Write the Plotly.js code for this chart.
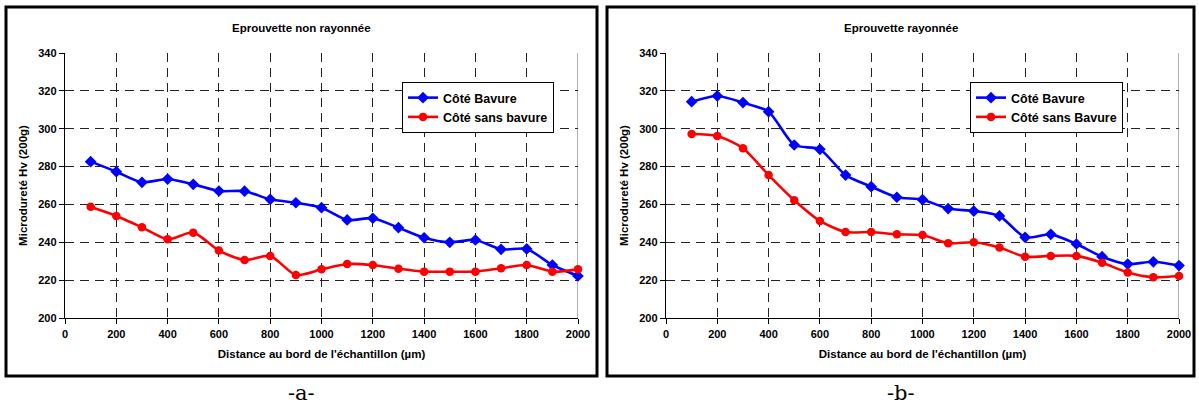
<!DOCTYPE html>
<html>
<head>
<meta charset="utf-8">
<script src="https://cdn.plot.ly/plotly-3.0.1.min.js"></script>
<style>html,body{margin:0;padding:0;background:#fff;}#chart{width:1199px;height:409px;}</style>
</head>
<body>
<div id="chart"></div>
<script>
// Distance au bord de l'échantillon (µm)
const distance = [100, 200, 300, 400, 500, 600, 700, 800, 900, 1000, 1100, 1200, 1300, 1400, 1500, 1600, 1700, 1800, 1900, 2000];

// -a- Eprouvette non rayonnée
const nonRayBavure = [282.6, 277.3, 271.7, 273.4, 270.6, 267.1, 267.0, 262.7, 260.9, 258.3, 251.8, 252.7, 247.7, 242.4, 240.0, 241.2, 236.3, 236.5, 228.0, 222.2];
const nonRaySansBavure = [258.8, 253.9, 247.9, 241.6, 245.1, 235.6, 230.6, 232.8, 222.7, 225.7, 228.5, 228.0, 226.0, 224.5, 224.5, 224.5, 226.3, 228.0, 224.5, 225.7];

// -b- Eprouvette rayonnée
const rayBavure = [314.3, 317.3, 313.8, 309.0, 291.4, 289.1, 275.5, 269.4, 263.8, 262.5, 257.8, 256.5, 253.9, 242.6, 244.2, 239.1, 232.4, 228.5, 229.7, 227.7];
const raySansBavure = [297.2, 296.2, 289.7, 275.5, 262.2, 251.3, 245.4, 245.4, 244.2, 243.8, 239.5, 240.0, 237.2, 232.4, 232.8, 232.8, 229.2, 224.0, 221.5, 222.2];

const titles = ["Eprouvette non rayonnée", "Eprouvette rayonnée"];
const legendNames = [["Côté Bavure", "Côté sans bavure"], ["Côté Bavure", "Côté sans Bavure"]];
const captions = ["-a-", "-b-"];
const xTitle = "Distance au bord de l'échantillon (µm)";
const yTitle = "Microdureté Hv (200g)";
const xTicks = [0, 200, 400, 600, 800, 1000, 1200, 1400, 1600, 1800, 2000];
const yTicks = [200, 220, 240, 260, 280, 300, 320, 340];

const FONT = "Liberation Sans, Arial, sans-serif";
const W = 1199, H = 409;

function mkTrace(y, name, color, symbol, size, xa, ya, leg) {
  return {
    x: distance, y: y, name: name, type: "scatter", mode: "lines+markers",
    line: {color: color, width: 2.6, shape: "spline", smoothing: 0.7},
    marker: {color: color, symbol: symbol, size: size},
    xaxis: xa, yaxis: ya, legend: leg, cliponaxis: false
  };
}

const data = [
  mkTrace(nonRayBavure, legendNames[0][0], "#0000FF", "diamond", 9, "x", "y", "legend"),
  mkTrace(nonRaySansBavure, legendNames[0][1], "#FF0000", "circle", 8.5, "x", "y", "legend"),
  mkTrace(rayBavure, legendNames[1][0], "#0000FF", "diamond", 9, "x2", "y2", "legend2"),
  mkTrace(raySansBavure, legendNames[1][1], "#FF0000", "circle", 8.5, "x2", "y2", "legend2")
];

function xAxis(domain, anchor) {
  return {
    domain: domain, anchor: anchor, range: [0, 2000], tickvals: xTicks,
    showgrid: true, gridcolor: "#222", gridwidth: 1, griddash: "9px,6px",
    showline: true, linecolor: "#000", linewidth: 1.3,
    ticks: "outside", ticklen: 5, tickcolor: "#000",
    tickfont: {family: FONT, size: 11, color: "#000", weight: "bold"},
    title: {text: xTitle, font: {family: FONT, size: 11.5, color: "#000", weight: "bold"}, standoff: 11},
    zeroline: false, automargin: false, fixedrange: true
  };
}
function yAxis(domain, anchor) {
  return {
    domain: domain, anchor: anchor, range: [200, 340], tickvals: yTicks,
    showgrid: true, gridcolor: "#222", gridwidth: 1, griddash: "9px,6px",
    showline: true, linecolor: "#000", linewidth: 1.3,
    ticks: "outside", ticklen: 5, tickcolor: "#000",
    tickfont: {family: FONT, size: 11, color: "#000", weight: "bold"},
    title: {text: yTitle, font: {family: FONT, size: 11.5, color: "#000", weight: "bold"}, standoff: 8},
    zeroline: false, automargin: false, fixedrange: true
  };
}

const yDom = [1 - 318 / H, 1 - 53 / H];
const legendStyle = {
  xanchor: "left", yanchor: "top",
  bgcolor: "#fff", bordercolor: "#000", borderwidth: 1,
  font: {family: FONT, size: 12.5, color: "#000", weight: "bold"},
  tracegroupgap: 0, itemwidth: 30
};
const layout = {
  width: W, height: H,
  margin: {l: 0, r: 0, t: 0, b: 0},
  paper_bgcolor: "#fff", plot_bgcolor: "#fff",
  font: {family: FONT, color: "#000"},
  showlegend: true,
  xaxis: xAxis([65 / W, 578 / W], "y"),
  yaxis: yAxis(yDom, "x"),
  xaxis2: xAxis([666 / W, 1179 / W], "y2"),
  yaxis2: yAxis(yDom, "x2"),
  legend: Object.assign({x: 402 / W, y: 1 - 82 / H}, legendStyle),
  legend2: Object.assign({x: 970 / W, y: 1 - 82 / H}, legendStyle),
  shapes: [
    {type: "rect", xref: "paper", yref: "paper", x0: 6 / W, x1: 597 / W, y0: 1 - 376 / H, y1: 1 - 7 / H, line: {color: "#000", width: 3}},
    {type: "rect", xref: "paper", yref: "paper", x0: 607 / W, x1: 1194 / W, y0: 1 - 376 / H, y1: 1 - 7 / H, line: {color: "#000", width: 3}},
    {type: "line", xref: "x", yref: "y", x0: 2000, x1: 2000, y0: 200, y1: 340, line: {color: "#888", width: 1.3}, layer: "below"},
    {type: "line", xref: "x2", yref: "y2", x0: 2000, x1: 2000, y0: 200, y1: 340, line: {color: "#888", width: 1.3}, layer: "below"}
  ],
  annotations: [
    {text: titles[0], xref: "paper", yref: "paper", x: 301 / W, y: 1 - 28 / H, showarrow: false, xanchor: "center", yanchor: "middle",
     font: {family: FONT, size: 11.5, color: "#000", weight: "bold"}},
    {text: titles[1], xref: "paper", yref: "paper", x: 901 / W, y: 1 - 28 / H, showarrow: false, xanchor: "center", yanchor: "middle",
     font: {family: FONT, size: 11.5, color: "#000", weight: "bold"}},
    {text: captions[0], xref: "paper", yref: "paper", x: 301 / W, y: 1 - 393 / H, showarrow: false, xanchor: "center", yanchor: "middle",
     font: {family: "DejaVu Serif, Liberation Serif, serif", size: 21, color: "#000"}},
    {text: captions[1], xref: "paper", yref: "paper", x: 901 / W, y: 1 - 393 / H, showarrow: false, xanchor: "center", yanchor: "middle",
     font: {family: "DejaVu Serif, Liberation Serif, serif", size: 21, color: "#000"}}
  ]
};

Plotly.newPlot("chart", data, layout, {displayModeBar: false, staticPlot: true});
</script>
</body>
</html>
